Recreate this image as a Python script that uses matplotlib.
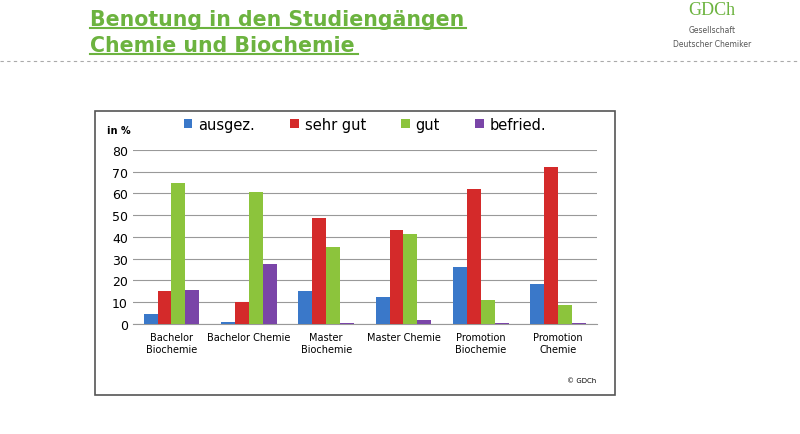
import matplotlib
matplotlib.use("Agg")
import matplotlib.pyplot as plt
from matplotlib.patches import Rectangle
import numpy as np

categories = ["Bachelor\nBiochemie", "Bachelor Chemie", "Master\nBiochemie", "Master Chemie", "Promotion\nBiochemie", "Promotion\nChemie"]
series = ["ausgez.", "sehr gut", "gut", "befried."]
ausgez = [4.5, 1, 15, 12.5, 26, 18.5]
sehr_gut = [15, 10, 48.5, 43, 62, 72]
gut = [65, 60.5, 35.5, 41.5, 11, 8.5]
befried = [15.5, 27.5, 0.5, 2, 0.3, 0.5]
colors = ["#3a78c9", "#d42a2a", "#8cc43c", "#7a45a8"]
yticks = [0, 10, 20, 30, 40, 50, 60, 70, 80]

fig = plt.figure(figsize=(8, 4.35), dpi=100)
fig.patch.set_facecolor("white")
fig.text(0.112, 0.955, "Benotung in den Studiengängen", color="#6cb33f", fontsize=14.8, fontweight="bold", va="center")
fig.text(0.112, 0.895, "Chemie und Biochemie", color="#6cb33f", fontsize=14.8, fontweight="bold", va="center")
fig.add_artist(plt.Line2D([0.112, 0.582], [0.933, 0.933], color="#6cb33f", lw=1.5))
fig.add_artist(plt.Line2D([0.112, 0.448], [0.873, 0.873], color="#6cb33f", lw=1.5))
fig.add_artist(plt.Line2D([0.0, 1.0], [0.858, 0.858], color="#aaaaaa", lw=0.8, ls=(0, (3, 3))))
fig.text(0.89, 0.975, "GDCh", color="#6cb33f", fontsize=13, family="Liberation Serif", ha="center", va="center")
fig.text(0.89, 0.93, "Gesellschaft", color="#555555", fontsize=5.5, ha="center", va="center")
fig.text(0.89, 0.897, "Deutscher Chemiker", color="#555555", fontsize=5.5, ha="center", va="center")
fig.add_artist(Rectangle((0.119, 0.09), 0.65, 0.653, transform=fig.transFigure, fill=False, ec="#555555", lw=1.2))

ax = fig.add_axes([0.166, 0.253, 0.58, 0.40])
x = np.arange(len(categories))
w = 0.18
for i, (vals, c, name) in enumerate(zip([ausgez, sehr_gut, gut, befried], colors, series)):
    ax.bar(x + (i - 1.5) * w, vals, w, color=c, label=name, edgecolor="none", zorder=3)
ax.set_ylim(0, 80)
ax.set_xlim(-0.5, 5.5)
ax.set_yticks(yticks)
ax.tick_params(axis="y", length=0, labelsize=9)
ax.set_xticks(x)
ax.set_xticklabels(categories, fontsize=7)
ax.tick_params(axis="x", length=0, pad=6)
ax.grid(axis="y", color="#999999", lw=0.8, zorder=0)
for s in ["top", "right", "left"]:
    ax.spines[s].set_visible(False)
ax.spines["bottom"].set_color("#999999")
ax.text(-0.056, 1.1, "in %", transform=ax.transAxes, fontsize=7, fontweight="bold")
ax.legend(ncol=4, loc="lower center", bbox_to_anchor=(0.50, 1.03), frameon=False, fontsize=10.5, handlelength=0.6, handleheight=0.6, columnspacing=2.4, handletextpad=0.4)
fig.text(0.745, 0.12, "© GDCh", fontsize=5, ha="right")
fig.savefig("out.png", dpi=100)
